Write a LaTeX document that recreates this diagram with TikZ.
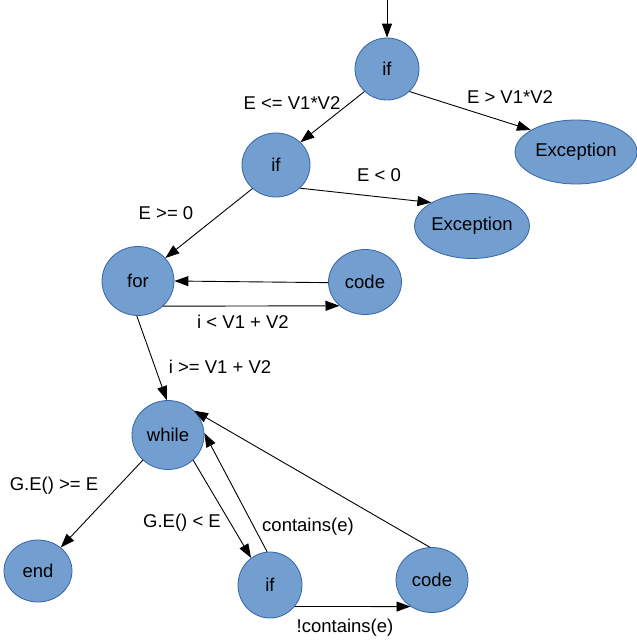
\documentclass[tikz,border=0pt]{standalone}
\usepackage{fontspec}
\setmainfont{Liberation Sans}
\usepackage{tikz}
\usetikzlibrary{shapes.geometric, arrows.meta, calc}

\definecolor{blobfill}{RGB}{114,159,207}
\definecolor{blobline}{RGB}{52,101,164}

\begin{document}
\begin{tikzpicture}[x=1pt, y=-1pt,
		blob/.style={ellipse, draw=blobline, fill=blobfill, line width=0.8pt, inner sep=0pt, font=\fontsize{18.5}{21}\selectfont},
		cond/.style={inner sep=0pt, font=\fontsize{18.5}{21}\selectfont},
		flow/.style={-{Triangle[length=14pt, width=10pt]}, line width=0.9pt}]
			\useasboundingbox (0, 0) rectangle (637, 643);
			
			\coordinate (entry) at (387, 0);
			
			\node[blob, minimum width=64pt, minimum height=62pt] (ifmax) at (387, 69) {if};
			\node[blob, minimum width=122pt, minimum height=64pt] (excmax) at (576, 152) {Exception};
			\node[blob, minimum width=68pt, minimum height=64pt] (ifneg) at (276, 165) {if};
			\node[blob, minimum width=114pt, minimum height=65pt] (excneg) at (472, 226) {Exception};
			
			\node[blob, minimum width=72pt, minimum height=69pt] (forloop) at (138, 281) {for};
			\node[blob, minimum width=73pt, minimum height=65pt] (forcode) at (365, 282) {code};
			
			\node[blob, minimum width=72pt, minimum height=69pt] (whileloop) at (168, 435) {while};
			\node[blob, minimum width=68pt, minimum height=62pt] (end) at (38, 571) {end};
			\node[blob, minimum width=64pt, minimum height=66pt] (ifcontains) at (270, 585) {if};
			\node[blob, minimum width=72pt, minimum height=65pt] (whilecode) at (432, 580) {code};
			
			\draw[flow] (entry) -- (ifmax);
			\draw[flow] (ifmax.225) -- (ifneg.43);
			\draw[flow] (ifmax.-45) -- (excmax.154);
			\draw[flow] (ifneg.-44) -- (excneg.150);
			\draw[flow] (ifneg.225) -- (forloop.40);
			\draw[flow] (forcode.181) -- (forloop.0);
			\draw[flow] (forloop.-45) -- (forcode.223);
			\draw[flow] (forloop.268) -- (whileloop.92);
			\draw[flow] (whileloop.225) -- (end.46);
			\draw[flow] (whileloop.-45) -- (ifcontains.125);
			\draw[flow] (ifcontains.95) -- (whileloop.3);
			\draw[flow] (whilecode.94) -- (whileloop.43);
			\draw[flow] (ifcontains.-41) -- (whilecode.231);
			
			% conditions on the arrows
			\node[cond] (lblle) at (292, 103) {E <= V1*V2};
			\node[cond] (lblgt) at (510, 97) {E > V1*V2};
			\node[cond] (lbllt) at (379, 175) {E < 0};
			\node[cond] (lblge) at (166, 213) {E >= 0};
			\node[cond] (lblloop) at (243, 322) {i < V1 + V2};
			\node[cond] (lbldone) at (220, 367) {i >= V1 + V2};
			\node[cond] (lblstop) at (54, 486) {G.E() >= E};
			\node[cond] (lblgo) at (182, 523) {G.E() < E};
			\node[cond] (lblin) at (308, 527) {contains(e)};
			\node[cond] (lblout) at (345, 628) {!contains(e)};
		\end{tikzpicture}
\end{document}
